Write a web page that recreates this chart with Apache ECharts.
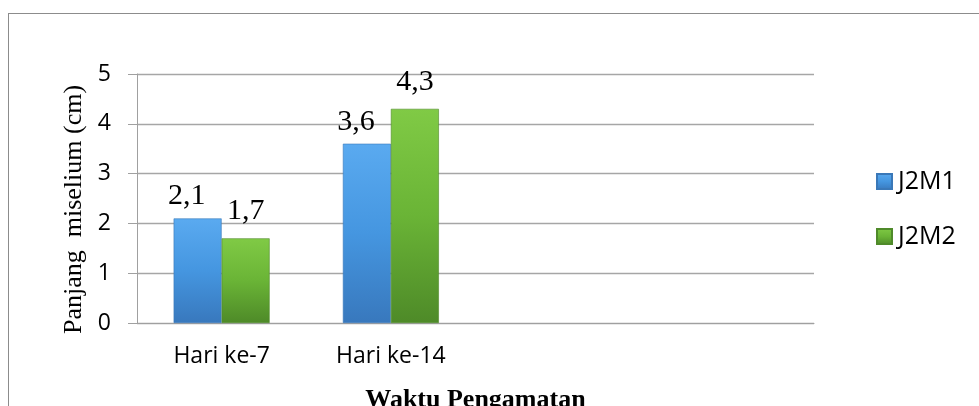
<!DOCTYPE html>
<html>
<head>
<meta charset="utf-8">
<script src="https://cdn.jsdelivr.net/npm/echarts@6/dist/echarts.min.js"></script>
<style>
  html, body { margin: 0; padding: 0; background: #fff; }
  #frame { position: absolute; left: 8px; top: 13px; width: 980px; height: 400px;
           border-left: 1px solid #8c8c8c; border-top: 1px solid #8c8c8c; }
  #main { position: absolute; left: 0; top: 0; width: 979px; height: 406px; }
</style>
</head>
<body>
<div id="frame"></div>
<div id="main"></div>
<script>
// data
var categories = ["Hari ke-7", "Hari ke-14", "", ""];
var seriesNames = ["J2M1", "J2M2"];
var j2m1 = [2.1, 3.6];
var j2m2 = [1.7, 4.3];
var yTicks = [0, 1, 2, 3, 4, 5];

function grad(top, mid, bottom) {
    return new echarts.graphic.LinearGradient(0, 0, 0, 1, [
        {offset: 0, color: top},
        {offset: 0.5, color: mid},
        {offset: 1, color: bottom}
    ]);
}

function commaLabel(p) {
    return String(p.value).replace(".", ",");
}

var myChart = echarts.init(document.getElementById('main'));
var option = {
    backgroundColor: "transparent",
    animation: false,
    grid: {left: 137, right: 165, top: 74, bottom: 83, containLabel: false, outerBoundsMode: "none"},
    legend: {
        orient: "vertical",
        left: 876,
        top: 169,
        padding: 0,
        itemWidth: 15,
        itemHeight: 15,
        itemGap: 30,
        icon: "rect",
        data: seriesNames,
        textStyle: {fontFamily: "Open Sans", fontSize: 25, color: "#000", padding: [0, 0, 0, 1]}
    },
    xAxis: {
        type: "category",
        data: categories,
        name: "Waktu Pengamatan",
        nameLocation: "middle",
        nameGap: 64,
        nameTextStyle: {fontFamily: "Liberation Serif", fontSize: 26, fontWeight: "bold", color: "#000"},
        axisLine: {lineStyle: {color: "#a0a0a0", width: 1}},
        axisTick: {show: false},
        axisLabel: {fontFamily: "Open Sans", fontSize: 23, color: "#000", margin: 22}
    },
    yAxis: {
        type: "value",
        min: yTicks[0],
        max: yTicks[yTicks.length - 1],
        interval: 1,
        name: "Panjang  miselium (cm)",
        nameLocation: "middle",
        nameGap: 50,
        nameTextStyle: {fontFamily: "Liberation Serif", fontSize: 26, color: "#000", padding: [0, 0, 0, -22]},
        axisLine: {show: true, lineStyle: {color: "#a0a0a0", width: 1}},
        axisTick: {show: true, length: 9, lineStyle: {color: "#a0a0a0"}},
        axisLabel: {fontFamily: "Open Sans", fontSize: 23, color: "#000", margin: 26},
        splitLine: {lineStyle: {color: "#a6a6a6", width: 1.3}}
    },
    series: [
        {
            name: seriesNames[0],
            type: "bar",
            data: j2m1,
            barWidth: 48,
            barGap: "0%",
            itemStyle: {color: grad("#5aaaf0", "#4596e0", "#3878bd"), borderColor: "#3a78b8", borderWidth: 0.6},
            label: {
                show: true, position: "top", distance: 7, offset: [-11, 0],
                formatter: commaLabel,
                fontFamily: "Liberation Serif", fontSize: 30, color: "#000"
            }
        },
        {
            name: seriesNames[1],
            type: "bar",
            data: j2m2,
            barWidth: 48,
            itemStyle: {color: grad("#80ca45", "#6ab436", "#4e8a28"), borderColor: "#4f8a2a", borderWidth: 0.6},
            label: {
                show: true, position: "top", distance: 12,
                formatter: commaLabel,
                fontFamily: "Liberation Serif", fontSize: 30, color: "#000"
            }
        }
    ]
};
myChart.setOption(option);
</script>
</body>
</html>
